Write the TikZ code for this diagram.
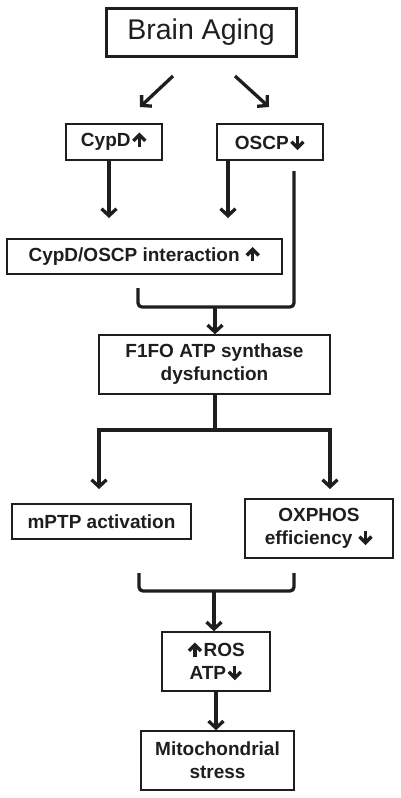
\documentclass[tikz,border=0pt]{standalone}
\usepackage{fontspec}
\setmainfont{Liberation Sans}
\usetikzlibrary{arrows.meta}
\definecolor{ink}{HTML}{1E1E1E}
\newcommand\upglyph{\tikz[baseline=0pt,x=1pt,y=1pt,line width=3.4pt,draw=ink]{\draw (0,0)--(0,12);\draw[line join=miter,miter limit=10] (-6,6)--(0,12)--(6,6);}}
\newcommand\downglyph{\tikz[baseline=0pt,x=1pt,y=1pt,line width=3.4pt,draw=ink]{\draw (0,14)--(0,2);\draw[line join=miter,miter limit=10] (-6,8)--(0,2)--(6,8);}}
\tikzset{
  box/.style={draw=ink, line width=1.4pt, inner sep=0pt, text=ink, align=center,
    font=\bfseries\fontsize{19}{23}\selectfont},
  titlebox/.style={draw=ink, line width=3pt, inner sep=0pt, text=ink,
    font=\fontsize{28.5}{30}\selectfont},
  conn/.style={draw=ink, line width=3.3pt},
  arr/.style={conn, -{Straight Barb[length=7pt,width=15pt]}},
}
\begin{document}
\begin{tikzpicture}[x=1pt,y=-1pt]
\useasboundingbox (0,0) rectangle (400,798);
% nodes
\node[titlebox, minimum width=190pt, minimum height=48pt] (brain) at (201,32) {Brain Aging};
\node[box, minimum width=96pt, minimum height=36pt] (cypd) at (114,142) {CypD\hspace{1pt}\upglyph};
\node[box, minimum width=106pt, minimum height=36pt] (oscp) at (270,142) {OSCP\hspace{1pt}\downglyph};
\node[box, minimum width=275pt, minimum height=35pt] (inter) at (144.5,256.5) {CypD/OSCP interaction \upglyph};
\node[box, minimum width=231pt, minimum height=59pt] (f1fo) at (214.5,364.5) {F1FO ATP synthase\\dysfunction};
\node[box, minimum width=179pt, minimum height=35pt] (mptp) at (101.5,521.5) {mPTP activation};
\node[box, minimum width=148pt, minimum height=59pt] (oxphos) at (319,528.5) {OXPHOS\\efficiency \downglyph};
\node[box, minimum width=108pt, minimum height=59pt] (ros) at (216,661.5) {\upglyph\hspace{1pt}ROS\\ATP\hspace{1pt}\downglyph};
\node[box, minimum width=153pt, minimum height=59pt] (mito) at (217.5,760.5) {Mitochondrial\\stress};
% free coordinates
\coordinate (bl) at (173,76);
\coordinate (blend) at (140,107);
\coordinate (br) at (235,76);
\coordinate (brend) at (269,107);
\coordinate (cypdend) at (109,218);
\coordinate (oscpend) at (228,218);
\coordinate (oscpr) at (294,171);
\coordinate (interb) at (138,288);
\coordinate (join1) at (215,307);
\coordinate (split) at (215,430);
\coordinate (mptpend) at (99,489);
\coordinate (oxend) at (330,489);
\coordinate (lbl) at (139,573);
\coordinate (lbr) at (294,573);
\coordinate (join2) at (214,591);
% connectors
\draw[arr] (bl) -- (blend);
\draw[arr] (br) -- (brend);
\draw[arr] (cypd.south -| cypdend) -- (cypdend);
\draw[arr] (oscp.south -| oscpend) -- (oscpend);
\draw[conn, rounded corners=4pt] (oscpr) |- (join1) -| (interb);
\draw[arr] (join1) -- (f1fo.north -| join1);
\draw[conn] (f1fo.south -| split) -- (split);
\draw[arr] (split) -| (mptpend);
\draw[arr] (split) -| (oxend);
\draw[conn, rounded corners=4pt] (lbl) |- (join2) -| (lbr);
\draw[arr] (join2) -- (ros.north -| join2);
\draw[arr] (ros.south) -- (mito.north -| ros.south);
\end{tikzpicture}
\end{document}
